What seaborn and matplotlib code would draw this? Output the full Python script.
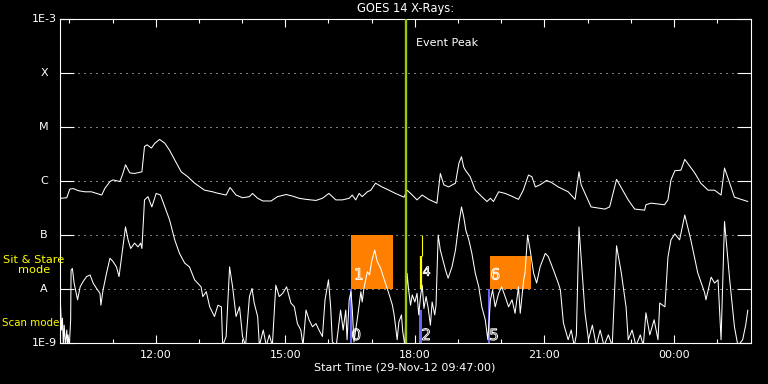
import numpy as np
import pandas as pd
import matplotlib
matplotlib.use("Agg")
import matplotlib.pyplot as plt
import seaborn as sns
import matplotlib.patheffects as pe
from matplotlib.transforms import blended_transform_factory
from matplotlib.ticker import FixedLocator, NullLocator

# ---------------- data ----------------
start_hour = 9 + 47 / 60.0          # 09:47 on 29-Nov-12
span_hours = 16.0

# GOES 14 long channel (1-8 A), hours after midnight 29-Nov, log10(W/m^2)
long_hours = [9.78, 9.81, 9.94, 10.01, 10.09, 10.21, 10.36, 10.51, 10.67, 10.75, 10.82, 10.94, 11.01, 11.17,
              11.24, 11.30, 11.40, 11.51, 11.68, 11.74, 11.80, 11.90, 11.98, 12.09, 12.21, 12.32, 12.44, 12.59,
              12.74, 12.90, 13.13, 13.32, 13.40, 13.63, 13.72, 13.86, 14.01, 14.17, 14.24, 14.36, 14.48, 14.67,
              14.82, 15.02, 15.17, 15.32, 15.48, 15.71, 15.86, 16.01, 16.17, 16.32, 16.48, 16.55, 16.63, 16.71,
              16.78, 16.90, 16.98, 17.09, 17.24, 17.40, 17.55, 17.75, 17.82, 17.94, 18.05, 18.17, 18.32, 18.51,
              18.59, 18.67, 18.78, 18.94, 19.02, 19.08, 19.13, 19.17, 19.28, 19.40, 19.55, 19.67, 19.75, 19.82,
              19.94, 20.09, 20.24, 20.40, 20.51, 20.63, 20.71, 20.79, 20.90, 21.05, 21.17, 21.32, 21.55, 21.71,
              21.80, 21.85, 22.08, 22.40, 22.51, 22.67, 22.94, 23.09, 23.32, 23.35, 23.47, 23.78, 23.86, 23.93,
              24.02, 24.16, 24.25, 24.48, 24.62, 24.79, 24.94, 25.09, 25.17, 25.29, 25.40, 25.71]
long_log = [-6.30, -6.32, -6.31, -6.15, -6.14, -6.18, -6.20, -6.20, -6.24, -6.26, -6.14, -6.01, -5.98, -6.01,
            -5.86, -5.70, -5.85, -5.86, -5.83, -5.36, -5.33, -5.39, -5.30, -5.23, -5.30, -5.43, -5.61, -5.83,
            -5.92, -6.04, -6.17, -6.20, -6.22, -6.26, -6.12, -6.26, -6.31, -6.29, -6.23, -6.32, -6.37, -6.37,
            -6.29, -6.25, -6.28, -6.32, -6.34, -6.36, -6.32, -6.23, -6.35, -6.35, -6.32, -6.26, -6.35, -6.23,
            -6.29, -6.20, -6.17, -6.04, -6.11, -6.17, -6.23, -6.30, -6.17, -6.26, -6.35, -6.26, -6.34, -6.41,
            -5.86, -6.07, -6.11, -6.04, -5.67, -5.55, -5.74, -5.80, -5.92, -6.17, -6.29, -6.38, -6.32, -6.38,
            -6.20, -6.23, -6.28, -6.34, -6.17, -5.89, -5.92, -6.11, -6.07, -5.99, -6.03, -6.11, -6.20, -6.34,
            -5.83, -6.07, -6.48, -6.52, -6.48, -5.97, -6.35, -6.52, -6.54, -6.44, -6.41, -6.44, -6.35, -5.98,
            -5.81, -5.80, -5.60, -5.85, -6.04, -6.17, -6.17, -6.26, -5.76, -6.04, -6.30, -6.38]

# GOES 14 short channel (0.5-4 A)
short_hours = [9.79, 9.82, 9.84, 9.86, 9.88, 9.91, 9.94, 9.96, 9.97, 10.00, 10.03, 10.04, 10.07, 10.11, 10.19,
               10.25, 10.32, 10.40, 10.48, 10.55, 10.63, 10.71, 10.73, 10.78, 10.86, 10.94, 11.01, 11.09, 11.15,
               11.21, 11.24, 11.30, 11.36, 11.42, 11.51, 11.59, 11.65, 11.68, 11.74, 11.82, 11.91, 12.01, 12.11,
               12.21, 12.32, 12.44, 12.55, 12.67, 12.78, 12.90, 13.05, 13.09, 13.17, 13.25, 13.36, 13.44, 13.52,
               13.55, 13.63, 13.71, 13.78, 13.86, 13.94, 14.01, 14.08, 14.17, 14.23, 14.28, 14.36, 14.40, 14.49,
               14.56, 14.63, 14.70, 14.78, 14.86, 14.94, 15.03, 15.13, 15.21, 15.28, 15.36, 15.41, 15.48, 15.55,
               15.63, 15.71, 15.78, 15.86, 15.92, 16.00, 16.05, 16.09, 16.18, 16.28, 16.34, 16.40, 16.43, 16.48,
               16.52, 16.55, 16.59, 16.67, 16.75, 16.78, 16.82, 16.90, 16.95, 17.00, 17.07, 17.13, 17.21, 17.28,
               17.36, 17.42, 17.48, 17.52, 17.55, 17.59, 17.63, 17.69, 17.72, 17.77, 17.82, 17.86, 17.90, 17.94,
               18.00, 18.05, 18.09, 18.13, 18.17, 18.21, 18.26, 18.31, 18.36, 18.40, 18.46, 18.49, 18.54, 18.59,
               18.71, 18.77, 18.86, 18.94, 19.02, 19.08, 19.13, 19.18, 19.25, 19.32, 19.40, 19.48, 19.55, 19.63,
               19.69, 19.75, 19.80, 19.86, 19.94, 20.01, 20.09, 20.17, 20.25, 20.32, 20.40, 20.44, 20.52, 20.55,
               20.61, 20.67, 20.75, 20.82, 20.90, 21.02, 21.09, 21.21, 21.32, 21.37, 21.44, 21.55, 21.62, 21.69,
               21.74, 21.80, 21.85, 21.94, 22.02, 22.11, 22.20, 22.29, 22.38, 22.48, 22.57, 22.67, 22.78, 22.89,
               22.94, 23.03, 23.12, 23.22, 23.29, 23.35, 23.44, 23.54, 23.63, 23.67, 23.79, 23.86, 23.93, 24.02,
               24.13, 24.25, 24.39, 24.55, 24.71, 24.74, 24.86, 24.94, 25.02, 25.09, 25.17, 25.29, 25.40, 25.48,
               25.59, 25.66, 25.71]
short_log = [-8.20, -8.76, -8.54, -9.05, -8.67, -9.05, -8.76, -9.05, -8.85, -9.05, -8.57, -7.65, -7.62, -7.89, -8.20,
             -7.96, -7.86, -7.77, -7.74, -7.89, -7.99, -8.08, -8.30, -8.02, -7.71, -7.43, -7.49, -7.59, -7.77,
             -7.40, -7.22, -6.85, -7.09, -7.25, -7.15, -7.22, -7.15, -7.25, -6.35, -6.29, -6.48, -6.23, -6.26,
             -6.48, -6.72, -7.09, -7.34, -7.52, -7.59, -7.83, -7.96, -8.14, -8.05, -8.33, -8.51, -8.30, -8.33,
             -9.05, -8.88, -7.59, -7.96, -8.51, -8.33, -8.88, -9.05, -8.14, -7.99, -8.26, -8.51, -9.05, -8.76,
             -9.05, -8.85, -9.05, -7.93, -8.14, -8.08, -7.96, -8.26, -8.33, -8.64, -8.76, -9.05, -8.39, -8.57,
             -8.70, -8.64, -8.76, -8.88, -8.20, -7.83, -8.33, -8.98, -9.05, -8.39, -8.76, -8.39, -8.94, -8.20,
             -8.05, -8.36, -8.98, -8.54, -8.05, -8.24, -7.99, -7.68, -7.74, -7.49, -7.28, -7.49, -7.62, -7.80,
             -7.99, -8.14, -8.30, -8.48, -8.67, -8.94, -8.61, -8.48, -8.79, -9.05, -7.71, -8.05, -8.30, -8.11,
             -8.24, -8.08, -8.48, -8.14, -7.93, -8.36, -8.14, -8.36, -8.67, -8.24, -8.48, -8.30, -7.00, -7.28,
             -7.65, -7.80, -7.59, -7.28, -6.78, -6.48, -6.66, -6.91, -7.09, -7.34, -7.71, -7.96, -8.33, -8.57,
             -8.94, -8.20, -8.02, -8.33, -8.08, -7.96, -8.14, -8.33, -8.20, -8.45, -7.96, -8.45, -7.83, -7.71,
             -7.00, -7.28, -7.71, -7.89, -7.59, -7.34, -7.40, -7.65, -7.89, -8.02, -8.63, -8.94, -8.76, -9.05,
             -8.85, -6.85, -7.41, -8.44, -8.94, -8.67, -9.05, -8.76, -9.05, -8.85, -9.05, -7.20, -7.70, -8.33,
             -8.94, -8.76, -9.05, -8.85, -9.05, -8.44, -8.85, -8.57, -8.94, -8.26, -8.33, -7.41, -7.09, -6.98,
             -7.09, -6.63, -7.09, -7.70, -8.07, -8.20, -7.78, -7.89, -7.83, -8.94, -6.75, -7.83, -8.70, -9.05,
             -8.94, -8.67, -8.39]

# observation blocks (sit & stare boxes)
stare_labels = ["1", "6"]
stare_start = [16.52, 19.73]
stare_end = [17.49, 20.70]
stare_low = [1e-8, 1e-8]
stare_high = [1e-7, 4.1e-8]
stare_text_x = [16.59, 19.75]

# scan-mode markers
scan_labels = ["0", "2", "5"]
scan_hours = [16.52, 18.13, 19.72]
scan_top = [1e-8, 4.1e-9, 1e-8]
scan_text_x = [16.53, 18.15, 19.72]

# yellow marker "4"
mark4_hour = 18.16
mark4_thin = (4.1e-8, 1e-7)
mark4_thick = (1e-8, 4.1e-8)

event_peak_hour = 17.80

class_levels = [1e-9, 1e-8, 1e-7, 1e-6, 1e-5, 1e-4, 1e-3]
class_labels = ["1E-9", "A", "B", "C", "M", "X", "1E-3"]

major_hours = [12, 15, 18, 21, 24]
major_labels = ["12:00", "15:00", "18:00", "21:00", "00:00"]
minor_hours = list(range(10, 26))

# ---------------- plot ----------------
sns.set_theme(style="ticks")
plt.rcParams.update({
    "figure.facecolor": "black", "axes.facecolor": "black", "savefig.facecolor": "black",
    "axes.edgecolor": "white", "text.color": "white",
    "xtick.color": "white", "ytick.color": "white",
    "axes.linewidth": 0.8,
})
plt.rcParams["font.family"] = ["DejaVu Sans"]

fig = plt.figure(figsize=(7.68, 3.84), dpi=100)
ax = fig.add_axes([60 / 768, 41 / 384, 691 / 768, 324 / 384])

# orange boxes
for s, e, lo, hi in zip(stare_start, stare_end, stare_low, stare_high):
    ax.fill_between([s, e], [lo, lo], [hi, hi], color="#ff8000", lw=0, zorder=1)

# blue scan bars
ax.bar(scan_hours, np.array(scan_top) - 1e-9, bottom=1e-9, width=0.05, color="#6464ff", lw=0, zorder=1)

df_long = pd.DataFrame({"hour": long_hours, "flux": 10 ** np.array(long_log)})
df_short = pd.DataFrame({"hour": short_hours, "flux": 10 ** np.array(short_log)})
sns.lineplot(data=df_long, x="hour", y="flux", color="white", lw=0.75, ax=ax,
             estimator=None, sort=False, zorder=3)
sns.lineplot(data=df_short, x="hour", y="flux", color="white", lw=0.75, ax=ax,
             estimator=None, sort=False, zorder=3)

ax.set_yscale("log")
ax.set_ylim(class_levels[0], class_levels[-1])
ax.set_xlim(start_hour, start_hour + span_hours)
ax.set_xlabel("")
ax.set_ylabel("")

# yellow marker
ax.vlines(mark4_hour, *mark4_thin, color="#ffff00", lw=0.8, zorder=4)
ax.vlines(mark4_hour - 0.01, *mark4_thick, color="#ffff00", lw=1.6, zorder=4)

# event peak line
ax.axvline(event_peak_hour, color="#99cc00", lw=1.7, zorder=5)
ax.text(event_peak_hour + 0.22, 10 ** -3.44, "Event Peak", fontsize=8, color="white",
        va="center", ha="left")

# hollow digit labels
hollow = [pe.PathPatchEffect(edgecolor="white", facecolor="none", linewidth=0.7)]
for lab, x in zip(stare_labels, stare_text_x):
    ax.text(x, 10 ** -7.74, lab, fontsize=11, ha="left", va="center",
            path_effects=hollow, zorder=6)
for lab, x in zip(scan_labels, scan_text_x):
    ax.text(x, 10 ** -8.86, lab, fontsize=11, ha="left", va="center",
            path_effects=hollow, zorder=6)
ax.text(mark4_hour + 0.02, 10 ** -7.69, "4", fontsize=9, ha="left", va="center",
        path_effects=hollow, zorder=6)

# axes ticks
ax.xaxis.set_major_locator(FixedLocator(major_hours))
ax.xaxis.set_minor_locator(FixedLocator(minor_hours))
ax.set_xticklabels(major_labels)
ax.tick_params(axis="x", which="major", direction="in", length=5.5, width=0.8,
               top=True, bottom=True, labelsize=8, pad=5)
ax.tick_params(axis="x", which="minor", direction="in", length=3, width=0.8, top=True, bottom=True)

ax.yaxis.set_major_locator(FixedLocator(class_levels))
ax.yaxis.set_minor_locator(NullLocator())
ax.tick_params(axis="y", which="major", direction="in", length=10, width=0.8,
               left=True, right=True, labelleft=False)
ax.grid(axis="y", which="major", color="white", lw=0.72, linestyle=(0, (1, 5)))
ax.grid(axis="x", visible=False)
for sp in ax.spines.values():
    sp.set_color("white")
    sp.set_linewidth(0.8)

# class labels on the left
trans = blended_transform_factory(ax.transAxes, ax.transData)
for lvl, lab in zip(class_levels, class_labels):
    ax.text(-16 / 691, lvl, lab, transform=trans, ha="center", va="center", fontsize=8, color="white")

# mode labels
fig.text(34 / 768, 1 - 265 / 384, "Sit & Stare\nmode", ha="center", va="center",
         fontsize=8.2, color="#ffff00", linespacing=1.05)
fig.text(2 / 768, 1 - 323 / 384, "Scan mode", ha="left", va="center", fontsize=7.4, color="#ffff00")

ax.set_title("GOES 14 X-Rays:", fontsize=8.3, color="white", pad=5)
fig.text(405 / 768, 1 - 368 / 384, "Start Time (29-Nov-12 09:47:00)", ha="center", va="center",
         fontsize=8, color="white")

fig.savefig("out.png", dpi=100, facecolor="black")
